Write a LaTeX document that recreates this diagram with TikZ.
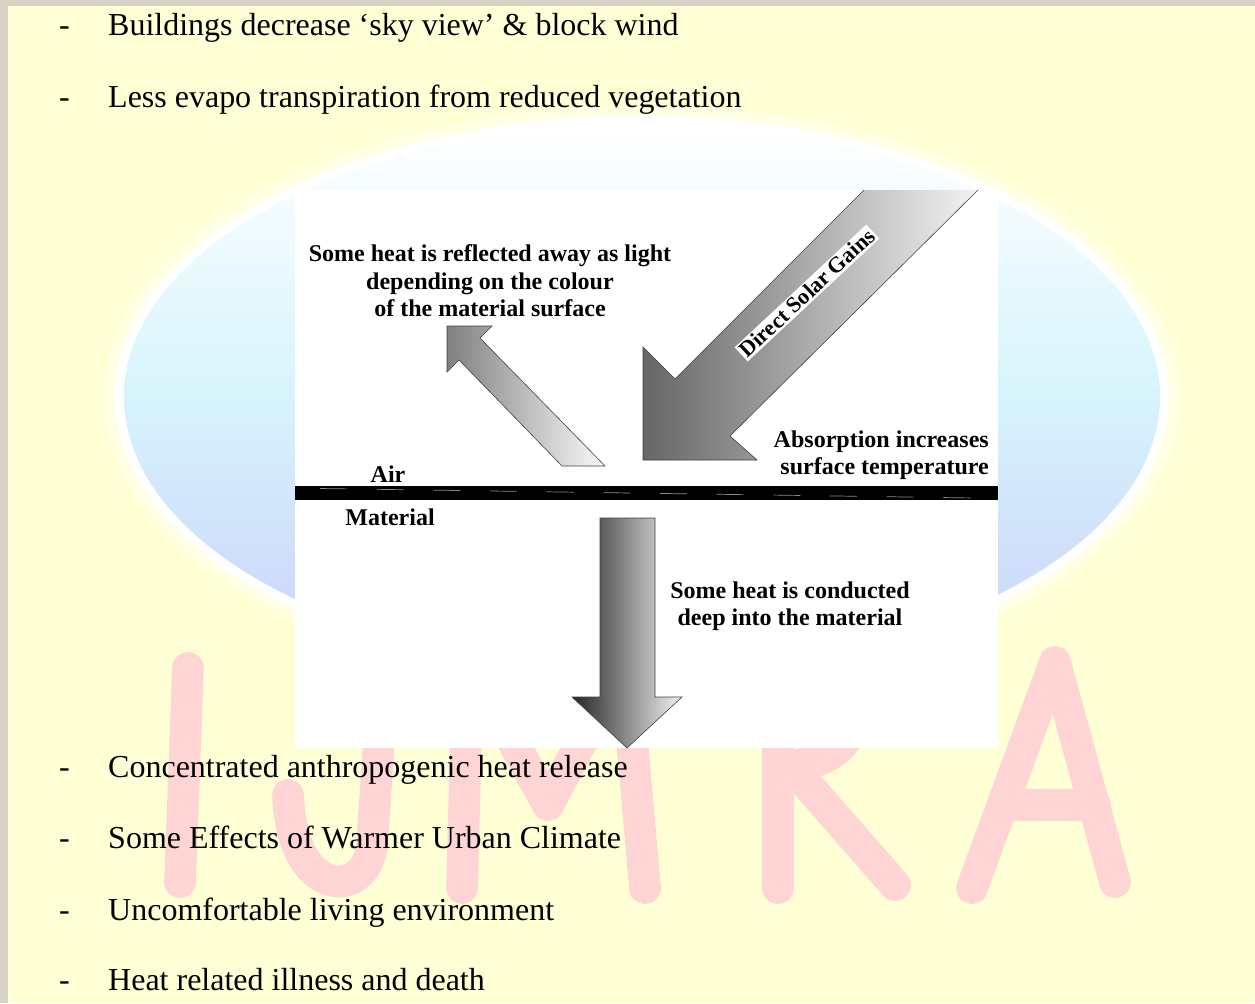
\documentclass[tikz,border=0pt]{standalone}
\usepackage{fontspec}
\setmainfont{Liberation Serif}
\definecolor{paper}{RGB}{255,255,214}
\definecolor{rimbeige}{RGB}{217,210,198}
\definecolor{globecyan}{RGB}{214,244,252}
\definecolor{globelilac}{RGB}{204,208,250}
\definecolor{inkpink}{RGB}{255,212,212}

\begin{document}
\begin{tikzpicture}[x=0.03cm, y=-0.03cm,
	bulletdash/.style={anchor=base west, inner sep=0pt, font=\fontsize{27.3}{32}\selectfont},
	bullettext/.style={anchor=base west, inner sep=0pt, font=\fontsize{27.3}{32}\selectfont},
	labeltext/.style={align=center, inner sep=0pt, font=\fontsize{20.5}{23.5}\selectfont\bfseries},
	heatarrow/.style={draw=black!75, line width=0.5pt},
	wmark/.style={draw=inkpink, line width=0.95cm, line cap=round, line join=round}]
			%%%%% START %%%%%
			
			\fill[rimbeige] (0,0) rectangle (1255,1003);
			\fill[paper] (8,6) rectangle (1255,1003);
			\useasboundingbox (0,0) rectangle (1255,1003);
			
			% globe behind the figure
			\fill[white!35!paper] (642,397) ellipse [x radius=538, y radius=291];
			\fill[white] (642,397) ellipse [x radius=527, y radius=281];
			\shade[top color=white, bottom color=globelilac, middle color=globecyan] (642,397) ellipse [x radius=518, y radius=272];
			
			% IJMRA letters
			\draw[wmark] (188,668) -- (180,882);
			\draw[wmark] (385,650) -- (372,845) .. controls (366,900) and (292,900) .. (288,795);
			\draw[wmark] (462,888) -- (468,660) -- (548,805) -- (625,660) -- (645,888);
			\draw[wmark] (778,888) -- (778,655) .. controls (880,645) and (880,765) .. (790,765) -- (895,885);
			\draw[wmark] (972,888) -- (1055,662) -- (1115,882) (1015,805) -- (1095,805);
			
			% figure
			\fill[white] (295,190) rectangle (998,748);
			\fill[black] (295,486) rectangle (998,500);
			\draw[black!45, line width=0.6pt, dash pattern=on 0.81cm off 0.89cm] (320,488.5) -- (975,498);
			
			\shadedraw[heatarrow, left color=black!50, right color=black!2] (562,466) -- (459,360) -- (447,372) -- (447,326) -- (492,326) -- (480,338) -- (605,466) -- cycle;
			
			\shade[left color=black!60, right color=black!5] (864,190) -- (675,379) -- (643,347) -- (643,460) -- (757,460) -- (730,436) -- (978,190) -- cycle;
			\draw[heatarrow] (864,190) -- (675,379) -- (643,347) -- (643,460) -- (757,460) -- (730,436) -- (978,190);
			
			\shadedraw[heatarrow, left color=black!85, right color=black!5] (600,518) -- (600,697) -- (572,697) -- (627,748) -- (682,697) -- (655,697) -- (655,518) -- cycle;
			
			\node[labeltext] (reflect) at (490,281) {Some heat is reflected away as light\\depending on the colour\\of the material surface};
			\node[labeltext, fill=white, inner sep=1.5pt, rotate=43, font=\fontsize{19}{21}\selectfont\bfseries] (solar) at (807,293) {Direct Solar Gains};
			\node[labeltext, align=right, anchor=east] (absorb) at (989,455) {Absorption increases\\surface temperature};
			\node[labeltext] (air) at (388,474) {Air};
			\node[labeltext] (material) at (390,517) {Material};
			\node[labeltext] (conduct) at (790,606) {Some heat is conducted\\deep into the material};
			
			% bullet list
			\node[bulletdash] (d1) at (59,35) {-};
			\node[bullettext] (b1) at (108,35) {Buildings decrease ‘sky view’ \& block wind};
			\node[bulletdash] (d2) at (59,107) {-};
			\node[bullettext] (b2) at (108,107) {Less evapo transpiration from reduced vegetation};
			\node[bulletdash] (d3) at (59,777) {-};
			\node[bullettext] (b3) at (108,777) {Concentrated anthropogenic heat release};
			\node[bulletdash] (d4) at (59,848) {-};
			\node[bullettext] (b4) at (108,848) {Some Effects of Warmer Urban Climate};
			\node[bulletdash] (d5) at (59,920) {-};
			\node[bullettext] (b5) at (108,920) {Uncomfortable living environment};
			\node[bulletdash] (d6) at (59,990) {-};
			\node[bullettext] (b6) at (108,990) {Heat related illness and death};
			
			%%%%% END %%%%%
\end{tikzpicture}
\end{document}
